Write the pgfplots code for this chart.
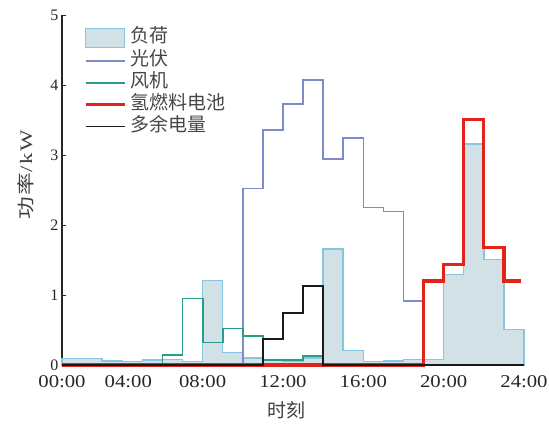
\documentclass[border=0pt]{standalone}
\usepackage{fontspec}
\setmainfont{Liberation Serif}
\newfontfamily\cjk{Noto Sans CJK SC}
\usepackage{pgfplots}
\pgfplotsset{compat=1.18}
\definecolor{loadfill}{HTML}{D2E1E6}
\definecolor{loadedge}{HTML}{86C6E3}
\definecolor{pvcol}{HTML}{7F8BC9}
\definecolor{windcol}{HTML}{2A9D8A}
\definecolor{h2col}{HTML}{E2231A}
\definecolor{surcol}{HTML}{1A1A1A}
\pgfplotsset{
  linelegend/.style={legend image code/.code={\draw[##1] (0pt,0pt) -- (39pt,0pt);}},
  arealegend/.style={legend image code/.code={\draw[##1] (0pt,-9.5pt) rectangle (39pt,9.5pt);}},
}
\begin{document}
\begin{tikzpicture}
\useasboundingbox (-62pt,-60pt) rectangle (487pt,365pt);
\begin{axis}[
  scale only axis, width=462pt, height=350pt,
  xmin=0, xmax=23, ymin=0, ymax=5,
  axis lines*=left,
  axis line style={line width=1.1pt, color=black!85},
  tick align=inside,
  major tick length=4pt, minor tick length=3pt,
  tick style={line width=0.9pt, color=black!85},
  xtick={0,3.3,7,11,15,19,23},
  xticklabels={00:00,04:00,08:00,12:00,16:00,20:00,24:00},
  minor xtick={1,3,5,9,13,17,21},
  ytick={0,1,2,3,4,5},
  /pgf/number format/assume math mode=true,
  xticklabel style={font=\fontsize{18}{20}\selectfont\addfontfeatures{FakeStretch=1.15}, text=black!85, yshift=-6.5pt},
  yticklabel style={font=\fontsize{16}{18}\selectfont, text=black!85},
  xlabel={时刻},
  xlabel style={font=\fontsize{19}{20}\selectfont\cjk, text=black!75, at={(axis description cs:0.485,-0.129)}, anchor=center},
  ylabel={\cjk\addfontfeatures{FakeStretch=1.3,LetterSpace=8}功率\rmfamily\addfontfeatures{FakeStretch=1.3,LetterSpace=8}/kW},
  ylabel style={font=\fontsize{17.5}{18}\selectfont, text=black!75, at={(axis description cs:-0.079,0.543)}, anchor=center},
  clip=false,
  linelegend,
  legend style={at={(rel axis cs:0.0476,0.963)}, anchor=north west, draw=none, fill=none,
    inner sep=0pt, outer sep=0pt, row sep=2.9pt, column sep=4pt,
    font=\fontsize{19}{19}\selectfont\cjk, text=black!72,
    nodes={inner sep=0pt, text height=14pt, text depth=5pt}},
  legend cell align=left,
]
% load
\addplot[const plot, fill=loadfill, draw=loadedge, line width=1.5pt, arealegend] coordinates {
 (0,0.095) (1,0.09) (2,0.06) (3,0.05) (4,0.07) (5,0.08) (6,0.05) (7,1.21) (8,0.18) (9,0.10)
 (10,0.07) (11,0.06) (12,0.10) (13,1.66) (14,0.21) (15,0.05) (16,0.06) (17,0.08) (18,0.08)
 (19,1.29) (20,3.16) (21,1.51) (22,0.51) (23,0.51)} \closedcycle;
\addlegendentry{负荷}
% PV
\addplot[const plot, draw=pvcol, line width=1.6pt] coordinates {
 (0,0) (1,0) (2,0) (3,0) (4,0) (5,0) (6,0) (7,0) (8,0) (9,2.52)
 (10,3.36) (11,3.73) (12,4.07) (13,2.94) (14,3.24) (15,2.25) (16,2.19) (17,0.91) (18,0)
 (19,0) (20,0) (21,0) (22,0) (23,0)};
\addlegendentry{光伏}
% wind
\addplot[const plot, draw=windcol, line width=1.8pt] coordinates {
 (0,0) (1,0) (2,0) (3,0) (4,0) (5,0.14) (6,0.95) (7,0.32) (8,0.52) (9,0.41)
 (10,0.07) (11,0.07) (12,0.13) (13,0) (14,0) (15,0) (16,0) (17,0) (18,0)
 (19,0) (20,0) (21,0) (22,0) (23,0)};
\addlegendentry{风机}
% hydrogen fuel cell
\addplot[const plot, draw=h2col, line width=3.2pt] coordinates {
 (0,0) (1,0) (2,0) (3,0) (4,0) (5,0) (6,0) (7,0) (8,0) (9,0)
 (10,0) (11,0) (12,0) (13,0) (14,0) (15,0) (16,0) (17,0) (18,1.20)
 (19,1.44) (20,3.51) (21,1.68) (22,1.20) (22.85,1.20)};
\addlegendentry{氢燃料电池}
% surplus
\addplot[const plot, draw=surcol, line width=1.8pt] coordinates {
 (0,0) (1,0) (2,0) (3,0) (4,0) (5,0) (6,0) (7,0) (8,0) (9,0)
 (10,0.37) (11,0.74) (12,1.13) (13,0) (14,0) (15,0) (16,0) (17,0) (18,0)
 (19,0) (20,0) (21,0) (22,0) (23,0)};
\addlegendentry{多余电量}
\end{axis}
\end{tikzpicture}
\end{document}
